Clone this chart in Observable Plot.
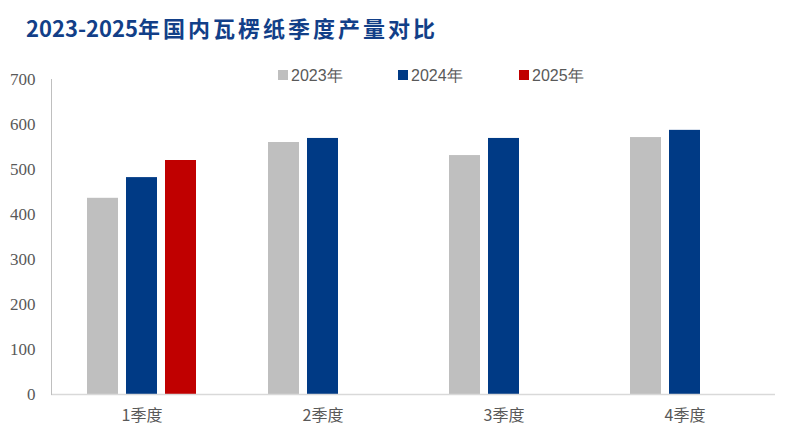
<!DOCTYPE html>
<html>
<head>
<meta charset="utf-8">
<script src="https://cdn.jsdelivr.net/npm/d3@7"></script>
<script src="https://cdn.jsdelivr.net/npm/@observablehq/plot@0.6"></script>
<style>
  html, body { margin: 0; padding: 0; background: #fff; }
  #wrap { position: relative; width: 799px; height: 442px; overflow: hidden; }
  #title { position: absolute; left: 26px; top: 16px; line-height: 22px; font-size: 22px; font-weight: bold;
           font-family: "Noto Sans CJK SC", "Noto Sans", sans-serif; color: #123F88; white-space: nowrap; }
  #title .cjk { letter-spacing: 3px; }
  #head { height: 50px; }
  #legend { position: absolute; top: 64px; left: 0; height: 24px; width: 799px; }
  .item { position: absolute; top: 0; display: flex; align-items: center; height: 24px;
          font-family: "Liberation Sans", Arial, sans-serif; font-size: 16px; color: #595959; }
  .sw { width: 10px; height: 10px; margin-right: 3px; margin-top: -3px; }
</style>
</head>
<body>
<div id="wrap">
  <div id="head"></div>
  <div id="title"><span>2023-2025</span><span class="cjk">年国内瓦楞纸季度产量对比</span></div>
  <div id="chart"></div>
  <div id="legend"></div>
</div>
<script>
const quarters = ["1季度", "2季度", "3季度", "4季度"];
const years = ["2023年", "2024年", "2025年"];
const v2023 = [436, 560, 531, 571];
const v2024 = [482, 569, 569, 587];
const v2025 = [520];
const colors = ["#BFBFBF", "#003A85", "#C00000"];
const yTicks = [0, 100, 200, 300, 400, 500, 600, 700];

const series = [v2023, v2024, v2025];
const data = [];
series.forEach((vals, si) => vals.forEach((v, qi) => data.push({q: quarters[qi], year: years[si], value: v})));

const chart = Plot.plot({
  width: 799,
  height: 392,
  marginLeft: 50,
  marginRight: 23,
  marginTop: 29,
  marginBottom: 48,
  style: {color: "#595959", background: "transparent", overflow: "visible"},
  fx: {domain: quarters, padding: 0, label: null},
  x: {domain: years, paddingInner: 0.2, paddingOuter: 0.87, axis: null},
  y: {domain: [0, 700], label: null, axis: null},
  color: {domain: years, range: colors},
  marks: [
    Plot.barY(data, {fx: "q", x: "year", y: "value", fill: "year"}),
    Plot.ruleY([0], {stroke: "#D9D9D9", strokeWidth: 1.5}),
    Plot.frame({anchor: "left", stroke: "#BFBFBF", facet: "super"}),
    Plot.axisY({ticks: yTicks, tickSize: 0, tickPadding: 16, fontSize: 17, fontFamily: "Liberation Serif", label: null}),
    Plot.axisFx({anchor: "bottom", tickSize: 0, tickPadding: 15, fontSize: 16, fontFamily: "Noto Sans CJK SC", label: null})
  ]
});
document.getElementById("chart").appendChild(chart);

chart.querySelectorAll("text").forEach(function (el) {
  const t = el.textContent.trim();
  if (/^\d+$/.test(t)) {
    el.style.fontFamily = "'Liberation Serif', serif";
    el.style.fontSize = "17px";
  } else if (t.indexOf("季度") >= 0) {
    el.style.fontFamily = "'Noto Sans CJK SC', sans-serif";
    el.style.fontSize = "16px";
  }
});

const legend = document.getElementById("legend");
const legendLeft = [278, 398, 519];
years.forEach((y, i) => {
  const it = document.createElement("div");
  it.className = "item";
  it.style.left = legendLeft[i] + "px";
  const sw = document.createElement("span");
  sw.className = "sw";
  sw.style.background = colors[i];
  const t = document.createElement("span");
  t.textContent = y;
  it.appendChild(sw); it.appendChild(t);
  legend.appendChild(it);
});
</script>
</body>
</html>
